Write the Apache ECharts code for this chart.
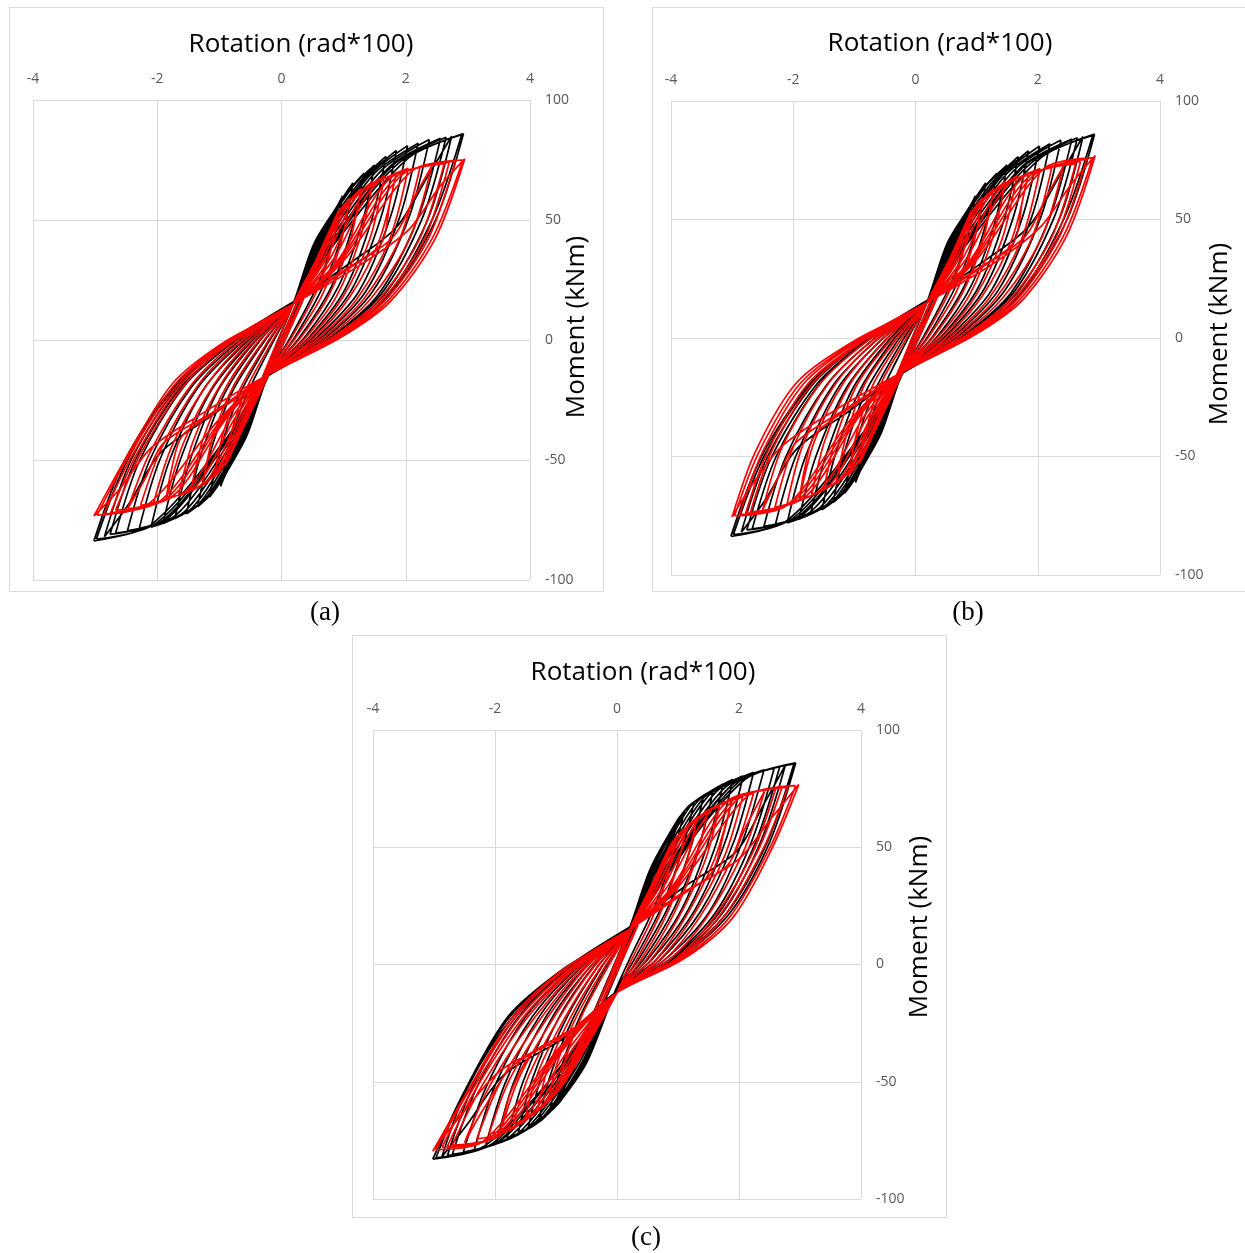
<!DOCTYPE html>
<html><head><meta charset="utf-8">
<script src="https://cdn.jsdelivr.net/npm/echarts@6/dist/echarts.min.js"></script>
<style>html,body{margin:0;padding:0;background:#fff;}#c{width:1245px;height:1253px;}</style>
</head><body><div id="c"></div>
<script>
const xTicks = [-4, -2, 0, 2, 4];
const yTicks = [-100, -50, 0, 50, 100];
const xTitle = 'Rotation (rad*100)';
const yTitle = 'Moment (kNm)';
const captions = ['(a)', '(b)', '(c)'];

// Each loop: x,y pairs (rotation, moment) read along one cycle
const aBlack = [
 [0.5,31, 0.95,58, 0.66,39, 0.32,18, 0,-1, -0.46,-29, -0.95,-58, -0.64,-38, -0.3,-17, 0.02,2],
 [0.52,32, 0.98,60, 0.7,40, 0.36,18, 0.02,-2, -0.44,-28, -0.97,-60, -0.68,-40, -0.34,-18, 0.2,16],
 [0.52,40, 0.9,56, 0.98,60, 0.86,44, 0.58,23, 0.14,1, -0.22,-15, -0.56,-40, -0.9,-56, -0.98,-61, -0.86,-45, -0.58,-24, -0.14,-1, 0.2,16],
 [0.54,40, 0.98,59, 1.15,65.5, 1.0,46, 0.68,23, 0.21,1, -0.22,-15, -0.58,-40, -0.98,-59, -1.16,-65.5, -1.0,-47, -0.68,-23, -0.21,-1, 0.2,16],
 [0.56,40, 1.05,61, 1.33,69.5, 1.15,48, 0.8,22, 0.29,1, -0.22,-15, -0.6,-40, -1.06,-62, -1.35,-69.5, -1.16,-48, -0.8,-22, -0.29,-1, 0.2,16],
 [0.58,40, 1.12,63, 1.5,73, 1.3,49, 0.91,22, 0.37,1, -0.22,-15, -0.62,-40, -1.14,-64, -1.53,-72.5, -1.31,-49, -0.91,-22, -0.37,-1, 0.2,16],
 [0.6,40, 1.2,64, 1.68,76.5, 1.45,50, 1.02,21, 0.44,1, -0.22,-15, -0.64,-40, -1.22,-66, -1.72,-74.5, -1.47,-50, -1.02,-21, -0.44,-1, 0.2,16],
 [0.63,40, 1.3,66, 1.85,79, 1.6,51, 1.13,21, 0.5,1, -0.22,-15, -0.67,-40, -1.32,-68, -1.91,-76.5, -1.63,-50, -1.13,-21, -0.5,-1, 0.2,16],
 [0.66,40, 1.4,68, 2.03,81, 1.75,51, 1.24,20, 0.57,1, -0.22,-15, -0.7,-40, -1.44,-70, -2.1,-78, -1.8,-50, -1.24,-20, -0.57,-1, 0.2,16],
 [0.7,40, 1.5,69.5, 2.2,82, 1.9,51, 1.35,20, 0.64,1, -0.22,-15, -0.74,-40, -1.56,-71.5, -2.29,-78.5, -1.96,-50, -1.35,-20, -0.64,-1, 0.2,16],
 [0.74,40, 1.62,71, 2.38,83.5, 2.05,51, 1.46,20, 0.71,1, -0.22,-15, -0.78,-40, -1.7,-73, -2.48,-79.5, -2.12,-50, -1.46,-20, -0.71,-1, 0.2,16],
 [0.78,40, 1.75,72.5, 2.56,84, 2.2,51, 1.56,19, 0.78,1, -0.22,-15, -0.82,-40, -1.84,-74.5, -2.67,-80.5, -2.28,-50, -1.56,-19, -0.78,-1, 0.2,16],
 [0.8,40, 1.8,73, 2.65,84.5, 2.27,51, 1.6,19, 0.8,1, -0.22,-15, -0.82,-40, -1.9,-75, -2.76,-81, -2.35,-50, -1.6,-19, -0.8,-1, 0.2,16],
 [1.1,32, 1.85,47, 2.35,68, 2.74,85, 2.35,50, 1.66,19, 0.84,1, -0.22,-15, -1.15,-32, -1.95,-47, -2.45,-68, -2.85,-82, -2.42,-50, -1.66,-19, -0.84,-1, 0.2,16],
 [0.82,40, 1.9,74, 2.93,86, 2.48,50, 1.75,19, 0.9,1, -0.22,-15, -0.84,-40, -2.0,-76, -3.02,-83.7, -2.52,-50, -1.72,-19, -0.86,-1, 0.2,16],
 [0.85,40, 2.05,76, 2.9,85.5, 2.44,51, 1.72,19, 0.88,1, -0.22,-15, -0.86,-40, -2.1,-77, -2.98,-83, -2.48,-50, -1.7,-19, -0.85,-1, 0.2,16]
];
const aRed = [
 [0.45,27, 0.88,51, 0.6,33, 0.28,14, 0,-1, -0.42,-25, -0.86,-50, -0.58,-33, -0.26,-14, 0,1],
 [0.48,29, 0.9,52, 0.64,35, 0.32,15, 0.02,-2, -0.42,-26, -0.88,-51, -0.62,-34, -0.3,-15, 0.19,15],
 [0.55,33, 0.85,50, 0.92,54, 0.8,38, 0.56,20, 0.16,1, -0.22,-14.5, -0.55,-33, -0.84,-49, -0.9,-52, -0.79,-37, -0.56,-20, -0.16,-1, 0.19,15],
 [0.58,33, 0.92,53, 1.1,59, 0.95,40, 0.66,19, 0.23,1, -0.22,-14.5, -0.58,-33, -0.92,-52, -1.08,-57, -0.94,-39, -0.66,-20, -0.23,-1, 0.19,15],
 [0.62,33, 1.0,55, 1.28,63, 1.1,41, 0.77,19, 0.31,1, -0.22,-14.5, -0.62,-33, -1.0,-54, -1.27,-60.5, -1.1,-40, -0.77,-19, -0.31,-1, 0.19,15],
 [0.66,33, 1.08,57, 1.47,66, 1.26,42, 0.88,18, 0.39,1, -0.22,-14.5, -0.66,-33, -1.08,-56, -1.46,-63, -1.26,-41, -0.88,-19, -0.39,-1, 0.19,15],
 [0.7,33, 1.18,59, 1.66,68.5, 1.42,42, 0.99,18, 0.46,1, -0.22,-14.5, -0.7,-33, -1.18,-58, -1.66,-65, -1.42,-42, -0.99,-19, -0.46,-1, 0.19,15],
 [1.0,29, 1.6,40, 1.75,58, 1.85,70, 1.58,42, 1.1,18, 0.53,1, -0.22,-14.5, -1.0,-29, -1.6,-40, -1.78,-55, -1.86,-67, -1.58,-43, -1.1,-19, -0.53,-1, 0.19,15],
 [0.76,33, 1.35,62, 2.04,71.5, 1.74,42, 1.21,17, 0.6,1, -0.22,-14.5, -0.76,-33, -1.35,-60, -2.06,-68, -1.76,-44, -1.21,-19, -0.6,-1, 0.19,15],
 [0.82,33, 1.5,64.5, 2.23,72, 1.9,42, 1.32,17, 0.67,1, -0.22,-14.5, -0.82,-33, -1.5,-62, -2.27,-69, -1.93,-45, -1.32,-18, -0.67,-1, 0.19,15],
 [1.1,30, 1.8,43, 2.15,60, 2.42,72.5, 2.06,42, 1.43,17, 0.74,1, -0.22,-14.5, -1.1,-30, -1.9,-43, -2.2,-58, -2.47,-70, -2.1,-46, -1.43,-18, -0.74,-1, 0.19,15],
 [0.9,33, 1.75,67.5, 2.62,73.5, 2.22,42, 1.54,16, 0.81,1, -0.22,-14.5, -0.9,-33, -1.75,-65, -2.67,-71, -2.26,-47, -1.54,-18, -0.81,-1, 0.19,15],
 [0.93,33, 1.85,68, 2.7,74, 2.3,42, 1.6,16, 0.85,1, -0.22,-14.5, -0.93,-33, -1.85,-66, -2.75,-72, -2.33,-47.5, -1.6,-18, -0.85,-1, 0.19,15],
 [0.96,33, 1.95,69, 2.8,74.5, 2.36,42, 1.65,16, 0.88,1, -0.22,-14.5, -0.96,-33, -1.95,-67, -2.86,-72.5, -2.4,-48, -1.65,-18, -0.88,-1, 0.19,15],
 [1.25,31, 2.05,46, 2.55,64, 2.95,75.5, 2.47,42, 1.75,16, 0.95,1, -0.22,-14.5, -1.3,-31, -2.1,-45, -2.6,-62, -3.02,-73.4, -2.5,-49, -1.75,-18, -0.93,-1, 0.19,15],
 [1.0,33, 2.1,70.5, 2.92,75, 2.42,42, 1.7,16, 0.92,1, -0.22,-14.5, -1.0,-33, -2.15,-68.5, -2.97,-73, -2.46,-48.5, -1.7,-18, -0.9,-1, 0.19,15]
];
const bBlack = aBlack;
const bRed = [
 [0.45,27, 0.88,51, 0.6,33, 0.28,14, 0,-1, -0.42,-25, -0.86,-50, -0.58,-33, -0.26,-14, 0,1],
 [0.48,29, 0.9,52, 0.64,35, 0.32,15, 0.02,-2, -0.42,-26, -0.88,-51, -0.62,-34, -0.3,-15, 0.19,15],
 [0.55,33, 0.85,50, 0.92,54, 0.8,38, 0.56,20, 0.16,1, -0.22,-14.5, -0.56,-33, -0.86,-50, -0.92,-53, -0.8,-38, -0.58,-20, -0.17,-1, 0.19,15],
 [0.58,33, 0.92,53, 1.1,59, 0.95,40, 0.66,19, 0.23,1, -0.22,-14.5, -0.6,-33, -0.95,-53, -1.1,-58, -0.96,-40, -0.7,-20, -0.25,-1, 0.19,15],
 [0.62,33, 1.0,55, 1.28,63, 1.1,41, 0.77,19, 0.31,1, -0.22,-14.5, -0.64,-33, -1.04,-55, -1.3,-61.5, -1.13,-41, -0.82,-19, -0.33,-1, 0.19,15],
 [0.66,33, 1.08,57, 1.47,66, 1.26,42, 0.88,18, 0.39,1, -0.22,-14.5, -0.68,-33, -1.12,-57, -1.5,-64, -1.3,-42, -0.94,-19, -0.41,-1, 0.19,15],
 [0.7,33, 1.18,59, 1.66,68.5, 1.42,42, 0.99,18, 0.46,1, -0.22,-14.5, -0.72,-33, -1.22,-59, -1.7,-66.5, -1.48,-43, -1.06,-19, -0.49,-1, 0.19,15],
 [1.0,29, 1.6,40, 1.75,58, 1.85,70, 1.58,42, 1.1,18, 0.53,1, -0.22,-14.5, -1.05,-29, -1.65,-41, -1.82,-56, -1.9,-68.5, -1.66,-44, -1.18,-19, -0.57,-1, 0.19,15],
 [0.76,33, 1.35,62, 2.04,71.5, 1.74,42, 1.21,17, 0.6,1, -0.22,-14.5, -0.78,-33, -1.4,-62, -2.1,-70, -1.84,-45, -1.3,-19, -0.65,-1, 0.19,15],
 [0.82,33, 1.5,64.5, 2.23,72, 1.9,42, 1.32,17, 0.67,1, -0.22,-14.5, -0.84,-33, -1.55,-64, -2.3,-71.5, -2.0,-46, -1.42,-19, -0.73,-1.5, 0.19,15],
 [1.1,30, 1.8,43, 2.15,60, 2.42,72.5, 2.06,42, 1.43,17, 0.74,1, -0.22,-14.5, -1.15,-30, -1.95,-44, -2.25,-59, -2.5,-72.5, -2.18,-46, -1.55,-19, -0.8,-1.5, 0.19,15],
 [0.9,33, 1.75,67.5, 2.62,73.5, 2.22,42, 1.54,16, 0.81,1, -0.22,-14.5, -0.92,-33, -1.8,-67, -2.7,-73.5, -2.34,-47, -1.68,-19, -0.87,-1.5, 0.19,15],
 [0.93,33, 1.85,68, 2.7,74.5, 2.3,42.5, 1.6,16, 0.85,1, -0.22,-14.5, -0.95,-33, -1.9,-68, -2.78,-74, -2.42,-48, -1.75,-19, -0.9,-1.5, 0.19,15],
 [0.96,33, 1.95,69, 2.8,75.5, 2.36,43, 1.65,16, 0.88,1, -0.22,-14.5, -0.98,-33, -2.0,-69, -2.88,-74.5, -2.5,-48, -1.82,-19, -0.95,-1.5, 0.19,15],
 [1.25,31, 2.05,47, 2.55,65, 2.94,77, 2.47,43, 1.75,16, 0.95,1, -0.22,-14.5, -1.35,-31, -2.2,-46, -2.7,-63, -3.0,-75.5, -2.62,-48, -1.95,-19, -1.02,-1.5, 0.19,15],
 [1.0,33, 2.1,71.5, 2.9,76, 2.42,43, 1.7,16, 0.92,1, -0.22,-14.5, -1.02,-33, -2.1,-70.5, -2.96,-75, -2.56,-48, -1.88,-19, -0.98,-1.5, 0.19,15]
];
const cBlack = [
 [0.5,32, 1.0,61, 0.7,42, 0.35,20, 0.02,0, -0.4,-27, -1.0,-60, -0.7,-41, -0.34,-19, 0,1],
 [0.55,35, 1.05,63, 0.74,43, 0.38,21, 0.04,-1, -0.38,-26, -1.05,-61, -0.73,-42, -0.36,-19, 0.21,16],
 [0.55,41, 1.0,62, 1.1,65, 0.92,47, 0.62,25, 0.2,2, -0.05,-12.5, -0.5,-42, -0.95,-59, -1.1,-62, -0.94,-46, -0.62,-23, -0.18,-1, 0.21,16],
 [0.57,41, 1.06,64, 1.26,69, 1.06,48, 0.72,24, 0.28,2, -0.05,-12.5, -0.52,-42, -1.02,-61, -1.28,-66, -1.09,-47, -0.72,-23, -0.25,-1, 0.21,16],
 [0.6,41, 1.12,66, 1.42,72, 1.2,49, 0.83,24, 0.35,2, -0.05,-12.5, -0.55,-42, -1.1,-63, -1.45,-69, -1.24,-48, -0.83,-23, -0.32,-1, 0.21,16],
 [0.63,41, 1.2,67.5, 1.58,74.5, 1.34,50, 0.94,24, 0.43,2, -0.05,-12.5, -0.58,-42, -1.18,-65, -1.62,-72, -1.39,-49, -0.94,-22, -0.39,-1, 0.21,16],
 [0.66,41, 1.3,69, 1.74,77, 1.48,51, 1.05,23, 0.5,2, -0.05,-12.5, -0.62,-42, -1.28,-67, -1.8,-74, -1.54,-50, -1.05,-22, -0.46,-1.5, 0.21,16],
 [0.7,41, 1.4,70.5, 1.9,79, 1.62,51, 1.16,23, 0.57,2, -0.05,-12.5, -0.66,-42, -1.38,-68.5, -1.98,-76.5, -1.69,-50, -1.16,-22, -0.53,-1.5, 0.21,16],
 [0.74,41, 1.5,72, 2.07,80.5, 1.77,52, 1.27,23, 0.64,2, -0.05,-12.5, -0.7,-42, -1.5,-70.5, -2.16,-78, -1.84,-51, -1.27,-22, -0.6,-1.5, 0.21,16],
 [0.78,41, 1.62,73.5, 2.24,82, 1.91,52, 1.38,23, 0.71,2, -0.05,-12.5, -0.74,-42, -1.62,-72, -2.34,-79, -1.99,-51, -1.38,-22, -0.66,-1.5, 0.21,16],
 [0.82,41, 1.75,75, 2.41,83, 2.05,52, 1.5,22, 0.78,2, -0.05,-12.5, -0.78,-42, -1.76,-73.5, -2.52,-80, -2.14,-52, -1.49,-22, -0.72,-1.5, 0.21,16],
 [0.86,41, 1.88,76.5, 2.58,84, 2.2,52, 1.61,22, 0.85,2, -0.05,-12.5, -0.82,-42, -1.9,-75, -2.7,-81, -2.29,-52, -1.6,-22, -0.78,-1.5, 0.21,16],
 [0.82,41, 1.9,77, 2.67,84.5, 2.27,52, 1.67,22, 0.88,2, -0.05,-12.5, -0.82,-42, -1.95,-75.5, -2.78,-81.5, -2.36,-52, -1.65,-22, -0.8,-1.5, 0.21,16],
 [1.15,34, 1.95,48, 2.4,68, 2.76,85, 2.35,52, 1.73,22, 0.92,2, -0.05,-12.5, -0.85,-31, -1.85,-47, -2.45,-68, -2.87,-82, -2.44,-52, -1.7,-22, -0.82,-1.5, 0.21,16],
 [0.9,41, 2.0,78, 2.93,86, 2.5,52, 1.85,22, 1.0,2, -0.05,-12.5, -0.88,-42, -2.05,-76.5, -3.02,-83, -2.5,-54, -1.78,-22, -0.86,-1.5, 0.21,16],
 [0.86,41, 2.1,79, 2.9,85.5, 2.46,52, 1.8,22, 0.96,2, -0.05,-12.5, -0.86,-42, -2.15,-77, -2.97,-82.5, -2.48,-53, -1.75,-22, -0.84,-1.5, 0.21,16]
];
const cRed = [
 [0.45,27, 0.9,52, 0.62,34, 0.3,15, 0,-1, -0.42,-26, -0.9,-52, -0.6,-34, -0.28,-15, 0,1],
 [0.5,30, 0.93,53, 0.66,36, 0.33,16, 0.02,-2, -0.4,-25, -0.93,-53, -0.64,-35, -0.3,-16, 0.21,15],
 [0.55,33, 0.88,51, 0.95,53, 0.83,38, 0.58,20, 0.22,1, 0,-12, -0.5,-35, -0.85,-50, -0.95,-53, -0.84,-40, -0.58,-22, -0.15,-1, 0.21,15],
 [0.58,33, 0.95,53.5, 1.12,57, 0.97,40, 0.68,20, 0.3,1, 0,-12, -0.53,-35, -0.95,-53.5, -1.12,-57.5, -0.98,-42, -0.66,-22, -0.2,-1, 0.21,15],
 [0.62,33, 1.03,56, 1.3,61, 1.12,42, 0.79,20, 0.38,1.5, 0,-12, -0.56,-35, -1.05,-56.5, -1.3,-61.5, -1.13,-44, -0.75,-22, -0.26,-1, 0.21,15],
 [0.66,33, 1.12,58, 1.48,64.5, 1.27,43, 0.9,20, 0.46,1.5, 0,-12, -0.6,-35, -1.15,-59, -1.5,-65, -1.28,-45, -0.84,-22, -0.32,-1, 0.21,15],
 [0.7,33, 1.22,60.5, 1.68,67.5, 1.44,44, 1.01,20, 0.54,1.5, 0,-12, -0.64,-35, -1.28,-62, -1.7,-68, -1.44,-47, -0.93,-22, -0.38,-1, 0.21,15],
 [0.95,28, 1.55,39, 1.75,56, 1.88,69.5, 1.6,45, 1.12,20, 0.62,1.5, 0,-12, -0.7,-27, -1.4,-38, -1.75,-55, -1.9,-70.5, -1.6,-48, -1.02,-22, -0.44,-1, 0.21,15],
 [0.76,33, 1.38,63.5, 2.06,71.5, 1.76,46, 1.23,20, 0.7,2, 0,-12, -0.7,-35, -1.45,-65.5, -2.1,-72.5, -1.76,-49, -1.12,-22, -0.5,-1, 0.21,15],
 [0.82,33, 1.55,66, 2.24,73, 1.91,47, 1.35,20, 0.78,2, 0,-12, -0.76,-35, -1.62,-68.5, -2.3,-74.5, -1.91,-50, -1.22,-22, -0.56,-1.5, 0.21,15],
 [1.1,31, 1.8,42, 2.1,58, 2.42,74, 2.07,48, 1.47,20, 0.86,2, 0,-12, -0.77,-29, -1.7,-43, -2.15,-60, -2.5,-76, -2.07,-51, -1.33,-22, -0.62,-1.5, 0.21,15],
 [0.9,33, 1.8,69.5, 2.6,75, 2.23,48, 1.59,20, 0.94,2, 0,-12, -0.84,-35, -1.9,-72.5, -2.7,-77, -2.22,-52, -1.45,-22, -0.68,-1.5, 0.21,15],
 [0.93,33, 1.9,70, 2.7,75.2, 2.31,48.5, 1.66,20, 0.98,2, 0,-12, -0.87,-35, -2.0,-73.5, -2.78,-77.5, -2.3,-52.5, -1.52,-22, -0.72,-1.5, 0.21,15],
 [0.96,33, 2.0,71, 2.8,75.5, 2.39,49, 1.74,20, 1.02,2.5, 0,-12, -0.9,-35, -2.1,-74.5, -2.87,-78, -2.36,-53, -1.58,-22, -0.76,-1.5, 0.21,15],
 [1.2,32, 2.0,45, 2.55,63, 2.98,76.8, 2.55,50, 1.9,20, 1.1,2.5, 0,-12, -0.85,-30, -1.9,-45, -2.55,-64, -3.02,-79.6, -2.45,-54, -1.7,-22, -0.85,-1.5, 0.21,15],
 [1.0,33, 2.15,72, 2.93,76.3, 2.5,49.5, 1.84,20, 1.06,2.5, 0,-12, -0.93,-35, -2.2,-75.5, -2.97,-79, -2.42,-53.5, -1.65,-22, -0.82,-1.5, 0.21,15]
];

// flatten loops into [x,y] points; break the line at every turning point (peak) so peaks stay sharp
function toPoints(loops) {
  const pts = [[0, 0]];
  loops.forEach(l => { for (let i = 0; i < l.length; i += 2) pts.push([l[i], l[i + 1]]); });
  const out = [pts[0]];
  for (let i = 1; i < pts.length; i++) {
    out.push(pts[i]);
    if (i < pts.length - 1) {
      const a = pts[i - 1][1], b = pts[i][1], c = pts[i + 1][1];
      if ((b > a && b > c) || (b < a && b < c)) { out.push(['-', '-']); out.push(pts[i]); }
    }
  }
  return out;
}

const panels = [
  {grid: {left: 33, top: 100, width: 497, height: 480}, box: [9.5, 7.5, 594, 584], title: [301, 45], ytitle: [577, 327], cap: [325, 613], black: aBlack, red: aRed},
  {grid: {left: 671, top: 101, width: 489, height: 474}, box: [652.5, 7.5, 620, 584], title: [940, 44], ytitle: [1220, 334], cap: [968, 613], black: bBlack, red: bRed},
  {grid: {left: 373, top: 730, width: 488, height: 469}, box: [352.5, 635.5, 594, 582], title: [643, 673], ytitle: [920, 927], cap: [646, 1238], black: cBlack, red: cRed}
];

const FONT = '"Open Sans", sans-serif';
const grids = [], xAxes = [], yAxes = [], series = [], graphics = [];
panels.forEach((p, i) => {
  grids.push(Object.assign({show: false}, p.grid));
  xAxes.push({
    type: 'value', gridIndex: i, position: 'top', min: xTicks[0], max: xTicks[xTicks.length - 1], interval: 2,
    axisLine: {show: false}, axisTick: {show: false},
    axisLabel: {color: '#595959', fontSize: 14, fontFamily: FONT, margin: 14},
    splitLine: {show: true, lineStyle: {color: '#d9d9d9', width: 1}}
  });
  yAxes.push({
    type: 'value', gridIndex: i, position: 'right', min: yTicks[0], max: yTicks[yTicks.length - 1], interval: 50,
    axisLine: {show: false}, axisTick: {show: false},
    axisLabel: {color: '#595959', fontSize: 14, fontFamily: FONT, margin: 15},
    splitLine: {show: true, lineStyle: {color: '#d9d9d9', width: 1}}
  });
  [['#000000', p.black, 2], ['#ff0000', p.red, 3]].forEach(([col, loops, z]) => {
    series.push({type: 'line', xAxisIndex: i, yAxisIndex: i, data: toPoints(loops), showSymbol: false, symbol: 'none',
      smooth: 0.3, connectNulls: false, lineStyle: {color: col, width: 1.7}, itemStyle: {color: col}, z: z, animation: false, silent: true});
  });
  graphics.push({type: 'rect', shape: {x: p.box[0], y: p.box[1], width: p.box[2], height: p.box[3]}, style: {fill: null, stroke: '#d9d9d9', lineWidth: 1}, z: 0, silent: true});
  graphics.push({type: 'text', x: p.title[0], y: p.title[1], style: {text: xTitle, font: '26px ' + FONT, fill: '#000', align: 'center', verticalAlign: 'middle'}});
  graphics.push({type: 'text', x: p.ytitle[0], y: p.ytitle[1], rotation: Math.PI / 2, style: {text: yTitle, font: '26px ' + FONT, fill: '#000', align: 'center', verticalAlign: 'middle'}});
  graphics.push({type: 'text', x: p.cap[0], y: p.cap[1], style: {text: captions[i], font: '27px "Liberation Serif", serif', fill: '#000', align: 'center', verticalAlign: 'middle'}});
});

const chart = echarts.init(document.getElementById('c'), null, {renderer: 'canvas'});
chart.setOption({
  animation: false,
  backgroundColor: '#ffffff',
  grid: grids, xAxis: xAxes, yAxis: yAxes, series: series, graphic: graphics
});
</script>
</body></html>
